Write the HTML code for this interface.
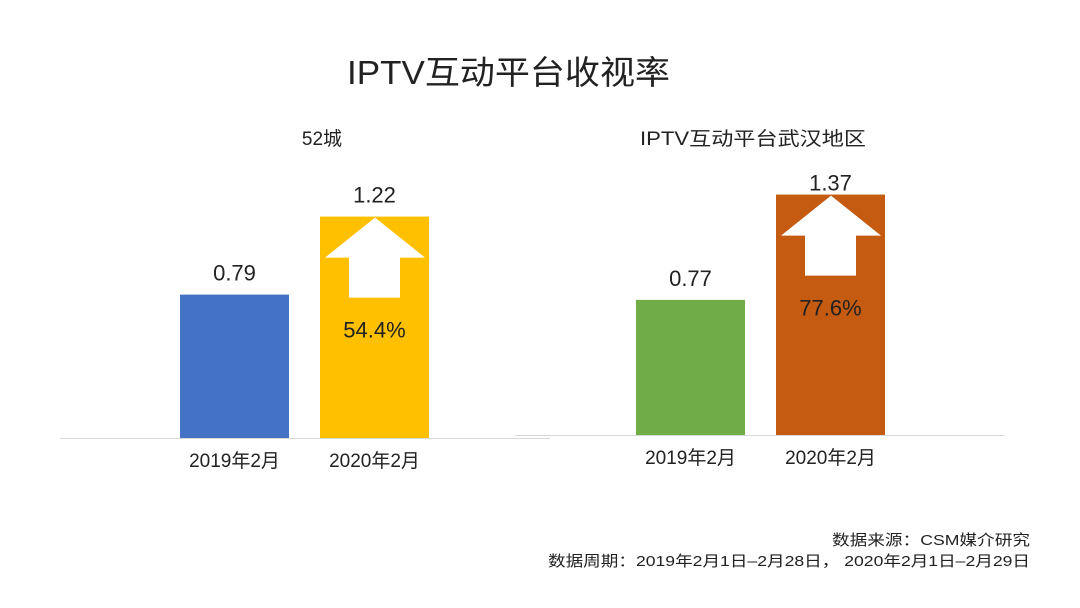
<!DOCTYPE html>
<html><head><meta charset="utf-8"><style>
body{margin:0;background:#fff}
svg{display:block}
text{font-family:"Liberation Sans","Noto Sans CJK SC",sans-serif;fill:#222}
</style></head><body>
<svg id="c" width="1080" height="608">
<text x="347" y="84" font-size="33" textLength="323" lengthAdjust="spacingAndGlyphs">IPTV互动平台收视率</text>
<text x="322" y="145" font-size="19" text-anchor="middle">52城</text>
<text x="640" y="145" font-size="19" textLength="226" lengthAdjust="spacingAndGlyphs">IPTV互动平台武汉地区</text>
<line x1="60" y1="438.5" x2="550" y2="438.5" stroke="#d9d9d9"/>
<line x1="515" y1="435.5" x2="1005" y2="435.5" stroke="#d9d9d9"/>
<g id="bars"></g>
<text x="832" y="545" font-size="15" textLength="198" lengthAdjust="spacingAndGlyphs">数据来源：CSM媒介研究</text>
<text x="548" y="566" font-size="15" textLength="482" lengthAdjust="spacingAndGlyphs">数据周期：2019年2月1日–2月28日， 2020年2月1日–2月29日</text>
</svg>
<script>
const categories=["2019年2月","2020年2月"];
const leftValues=[0.79,1.22];
const rightValues=[0.77,1.37];
const leftGrowth="54.4%";
const rightGrowth="77.6%";
const ns="http://www.w3.org/2000/svg";
const g=document.getElementById('bars');
function mk(t,a){const e=document.createElementNS(ns,t);for(const k in a)e.setAttribute(k,a[k]);g.appendChild(e);return e;}
function panel(vals,base,scale,x0,colors,growth,side,lblOff){
  vals.forEach((v,i)=>{
    const x=x0+i*140,h=v*scale,y=base-h;
    const r=mk('rect',{x:x,y:y,width:109,height:h,fill:colors[i]});
    
    
    const t=mk('text',{x:x+54.5,y:y-lblOff[i],'font-size':22,'text-anchor':'middle'});
    t.textContent=v.toFixed(2);
    
    
    const c=mk('text',{x:x+54.5,y:base+29,'font-size':19,'text-anchor':'middle'});
    c.textContent=categories[i];
    
    
    if(i===1){
      const cx=x+55,ty=y+1;
      const p=mk('polygon',{fill:'#fff',points:`${cx},${ty} ${cx+50},${ty+40} ${cx+25},${ty+40} ${cx+25},${ty+80} ${cx-26},${ty+80} ${cx-26},${ty+40} ${cx-50},${ty+40}`});
      
      
      const gt=mk('text',{x:x+54.5,y:ty+120,'font-size':22,'text-anchor':'middle'});
      gt.textContent=growth;
      
      
    }
  });
}
panel(leftValues,438,181.5,180,["#4472c4","#ffc000"],leftGrowth,'left',[14,14]);
panel(rightValues,435,175.5,636,["#70ad47","#c55a11"],rightGrowth,'right',[14,4]);
</script>
</body></html>
